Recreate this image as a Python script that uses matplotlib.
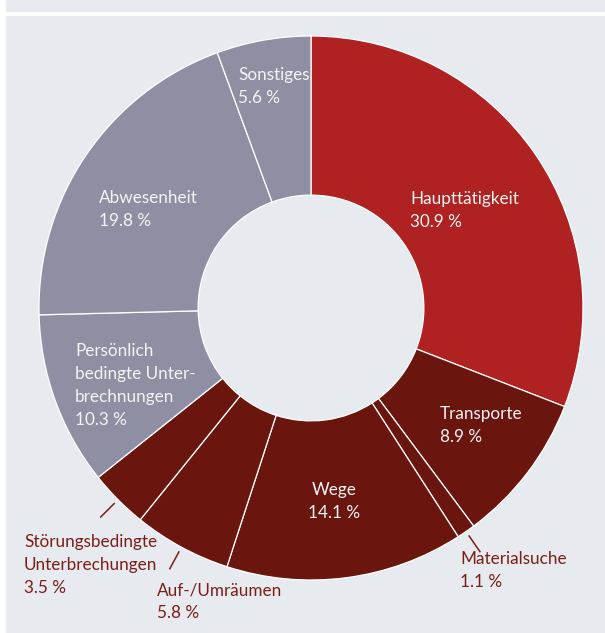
import matplotlib
matplotlib.use("Agg")
import matplotlib.pyplot as plt
import numpy as np
from matplotlib.patches import Rectangle

# Anteile der Tätigkeiten (im Uhrzeigersinn ab 12 Uhr)
kategorien = ["Haupttätigkeit", "Transporte", "Materialsuche", "Wege", "Auf-/Umräumen",
              "Störungsbedingte\nUnterbrechungen", "Persönlich\nbedingte Unter-\nbrechnungen",
              "Abwesenheit", "Sonstiges"]
anteile = [30.9, 8.9, 1.1, 14.1, 5.8, 3.5, 10.3, 19.8, 5.6]

ROT = "#b02121"
DUNKEL = "#6a150e"
GRAU = "#8f8fa3"
farben = [ROT, DUNKEL, DUNKEL, DUNKEL, DUNKEL, DUNKEL, GRAU, GRAU, GRAU]

# Beschriftungen: (x px, y px, innen/aussen, Ausrichtung)
label_pos = [(410, 191, "in", "left"), (440, 406, "in", "left"), (460, 551, "out", "left"),
             (334, 482, "in", "center"), (157, 582, "out", "left"), (24, 534, "out", "left"),
             (75, 343, "in", "left"), (99, 190, "in", "left"), (238, 67, "in", "left")]

W, H = 605, 633
CX, CY, R = 311, 308, 272

plt.rcParams['font.family'] = ['Lato', 'DejaVu Sans']
fig = plt.figure(figsize=(W / 100, H / 100), dpi=100)
fig.patch.set_facecolor("white")
bg = "#e7ebef"
fig.add_artist(Rectangle((6 / W, 0), 1, (H - 16) / H, transform=fig.transFigure, color=bg, zorder=0))
fig.add_artist(Rectangle((6 / W, (H - 11) / H), 1, 11 / H, transform=fig.transFigure, color=bg, zorder=0))

ax = fig.add_axes([0, 0, 1, 1])
ax.set_facecolor("none")
wedges, _ = ax.pie(anteile, colors=farben, startangle=90, counterclock=False, radius=1,
                   wedgeprops=dict(width=0.585, edgecolor="white", linewidth=0.9))
ax.set_xlim(-CX / R, (W - CX) / R)
ax.set_ylim(-(H - CY) / R, CY / R)
ax.set_aspect("equal", adjustable="datalim")
ax.axis("off")

def px(x, y):
    return (x - CX) / R, (CY - y) / R

for w, name, val, (x, y, lage, ha) in zip(wedges, kategorien, anteile, label_pos):
    farbe = "#f4f4f4" if lage == "in" else "#7b1e17"
    tx, ty = px(x, y)
    ax.text(tx, ty, f"{name}\n{val:.1f} %", color=farbe, fontsize=12.3, ha=ha, va="top",
            multialignment=ha, linespacing=1.55)
    if lage == "out":
        theta = np.deg2rad((w.theta1 + w.theta2) / 2)
        r1, r2 = 1.02, 1.09
        ax.plot([r1 * np.cos(theta), r2 * np.cos(theta)], [r1 * np.sin(theta), r2 * np.sin(theta)],
                color="#7b1e17", lw=1.1)

plt.savefig("out.png", dpi=100, facecolor=fig.get_facecolor())
